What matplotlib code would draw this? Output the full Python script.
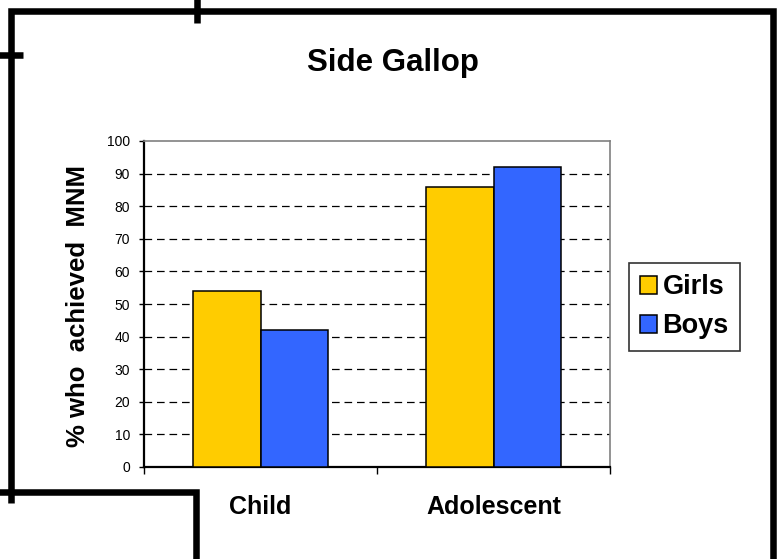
import matplotlib
matplotlib.use("Agg")
import matplotlib.pyplot as plt
from matplotlib.lines import Line2D
from matplotlib.patches import Patch
import numpy as np

plt.rcParams['font.family'] = ['Liberation Sans', 'DejaVu Sans']
plt.rcParams['lines.scale_dashes'] = False

# data
categories = ["Child", "Adolescent"]
girls = [54, 86]
boys = [42, 92]
series_names = ["Girls", "Boys"]
y_ticks = [0, 10, 20, 30, 40, 50, 60, 70, 80, 90, 100]

W, H = 781, 559
fig = plt.figure(figsize=(W / 100, H / 100), dpi=100)
fig.patch.set_facecolor("white")


def fx(px):
    return px / W


def fy(py):
    return 1 - py / H


ax = fig.add_axes([fx(144), fy(467), fx(610) - fx(144), fy(141) - fy(467)])

x = np.arange(len(categories))
bw = 0.288
ax.bar(x - bw / 2, girls, bw, color="#FFCC00", edgecolor="black", linewidth=1.1, zorder=3)
ax.bar(x + bw / 2, boys, bw, color="#3366FF", edgecolor="black", linewidth=1.1, zorder=3)

ax.set_xlim(-0.5, 1.5)
ax.set_ylim(0, 100)
ax.set_yticks(y_ticks)
ax.set_yticklabels([str(v) for v in y_ticks], fontsize=10)
ax.tick_params(axis="y", direction="out", length=3.6, width=1, pad=6.5, colors="black")

# category boundary ticks and centred labels
ax.set_xticks([-0.5, 0.5, 1.5])
ax.set_xticklabels([])
ax.tick_params(axis="x", which="major", direction="out", length=5.2, width=1)
ax.set_xticks(x, minor=True)
ax.set_xticklabels(categories, minor=True, fontsize=18, fontweight="bold")
ax.tick_params(axis="x", which="minor", length=0, pad=20)

for v in y_ticks[1:-1]:
    ax.axhline(v, color="black", linewidth=0.9, linestyle=(0, (5.5, 3.5)), zorder=1)

ax.spines["left"].set_linewidth(1.6)
ax.spines["bottom"].set_linewidth(1.6)
ax.spines["top"].set_color("#808080")
ax.spines["right"].set_color("#808080")
ax.spines["top"].set_linewidth(1.2)
ax.spines["right"].set_linewidth(1.2)

fig.text(fx(78), fy(306), "% who  achieved  MNM", fontsize=18.5, fontweight="bold",
         rotation=90, ha="center", va="center")

fig.text(fx(393), fy(63), "Side Gallop", fontsize=22.5, fontweight="bold",
         ha="center", va="center")

handles = [Patch(facecolor="#FFCC00", edgecolor="black", linewidth=1.1),
           Patch(facecolor="#3366FF", edgecolor="black", linewidth=1.1)]
leg = fig.legend(handles, series_names, loc="upper left",
                 bbox_to_anchor=(fx(629), fy(263)), frameon=True, fancybox=False,
                 edgecolor="black", handlelength=0.62, handleheight=0.62,
                 handletextpad=0.2, labelspacing=0.48, borderpad=0.42, borderaxespad=0,
                 prop={"weight": "bold", "size": 19.5})
leg.get_frame().set_linewidth(1.2)

# heavy outline strokes around the slide
lw = 4.7
kw = dict(color="black", linewidth=lw, solid_joinstyle="miter", solid_capstyle="butt",
          transform=fig.transFigure)
paths = [
    ([10.5, 10.5, 772.5, 772.5], [503, 10.5, 10.5, 565]),
    ([197, 197], [-5, 23]),
    ([-5, 23], [55, 55]),
    ([-5, 196, 196], [492, 492, 565]),
]
for xs, ys in paths:
    fig.add_artist(Line2D([fx(v) for v in xs], [fy(v) for v in ys], **kw))

fig.savefig("out.png", dpi=100, facecolor="white")
